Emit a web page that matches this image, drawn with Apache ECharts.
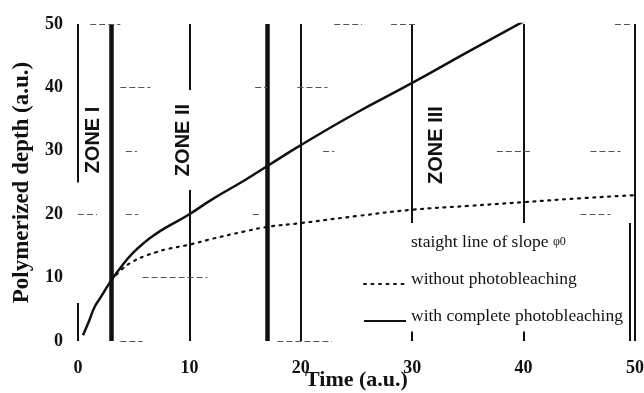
<!DOCTYPE html>
<html><head><meta charset="utf-8">
<script src="https://cdn.jsdelivr.net/npm/echarts@6/dist/echarts.min.js"></script>
<style>html,body{margin:0;padding:0;background:#fff}#c{width:644px;height:393px}</style>
</head><body><div id="c"></div>
<script>
// Data
const withBleach = [[0.45,0.9],[1,3.2],[1.5,5.4],[2,6.8],[3,9.6],[4,12.0],[5,14.0],[6,15.6],[7,16.9],[8,18.0],[10,20.0],[12,22.3],[15,25.4],[17,27.6],[20,30.9],[25,36.0],[30,40.7],[35,45.6],[40.3,50.7]];
const withoutBleach = [[3,9.6],[4,11.4],[5,12.6],[6,13.4],[7,14.0],[8,14.5],[10,15.2],[12,16.1],[15,17.3],[17,18.0],[20,18.6],[25,19.7],[30,20.7],[35,21.3],[40,21.9],[45,22.5],[50,23.0]];
const xTicks = [0,10,20,30,40,50];
const yTicks = [0,10,20,30,40,50];
// vertical zone / reference lines: [x, yFrom, yTo, thick(1) or thin(0)]
const vLines = [[0,25,50,0],[0,0,6,0],[3,0,50,1],[10,39.6,50,0],[10,0,23.8,0],[17,0,50,1],[20,0,50,0],[30,18.6,50,0],[30,0,1.5,0],[40,18.6,50,0],[40,0,1.5,0],[50,0,50,0],[49.55,0,18.6,0]];
// leftover grid-line fragments: [y, xFrom, xTo]
const hDashes = [[50,1.1,3.8],[50,23.0,25.5],[50,28.1,30.5],[50,48.2,49.8],[40,3.8,6.5],[40,15.9,17.0],[40,19.7,22.4],[30,4.3,5.3],[30,22.0,23.0],[30,37.6,40.6],[30,46.0,48.7],[20,0,1.7],[20,4.3,5.4],[20,15.7,16.4],[20,45.1,47.8],[10,5.8,11.6],[0,3.8,5.8],[0,17.9,22.8]];
const zones = [['ZONE I',1.35,31.7],['ZONE II',9.5,31.7],['ZONE III',32.2,30.9]];
const legendNames = ['staight line of slope φ0','without photobleaching','with complete photobleaching'];

const chart = echarts.init(document.getElementById('c'));
const serif = '"Liberation Serif","Times New Roman",serif';
const vData = vLines.map(v => [{coord:[v[0],v[1]], lineStyle:{width:v[3]?4.5:2}},{coord:[v[0],v[2]]}]);
const hData = hDashes.map(h => [{coord:[h[1],h[0]],lineStyle:{width:1,color:'#555',type:[6,3]}},{coord:[h[2],h[0]]}]);
chart.setOption({
  animation:false,
  backgroundColor:'#fff',
  grid:{left:78,right:9,top:24,bottom:52,outerBoundsMode:'none',containLabel:false},
  xAxis:{type:'value',min:0,max:50,interval:10,
    axisLine:{show:false},axisTick:{show:false},splitLine:{show:false},
    axisLabel:{color:'#111',fontFamily:serif,fontSize:18,fontWeight:'bold',margin:18},
    name:'Time (a.u.)',nameLocation:'middle',nameGap:28,nameMoveOverlap:false,
    nameTextStyle:{color:'#111',fontFamily:serif,fontSize:22,fontWeight:'bold',verticalAlign:'top'}},
  yAxis:{type:'value',min:0,max:50,interval:10,
    axisLine:{show:false},axisTick:{show:false},splitLine:{show:false},
    axisLabel:{color:'#111',fontFamily:serif,fontSize:18,fontWeight:'bold',margin:15},
    name:'Polymerized depth (a.u.)',nameLocation:'middle',nameGap:44,nameRotate:90,
    nameTextStyle:{color:'#111',fontFamily:serif,fontSize:23,fontWeight:'bold'}},
  legend:{orient:'vertical',left:358,top:227,itemGap:7,itemWidth:42,itemHeight:14,
    itemStyle:{opacity:0},
    data:[{name:legendNames[0],icon:'none'},legendNames[1],legendNames[2]],
    textStyle:{color:'#111',fontFamily:serif,fontSize:17.5,lineHeight:20,padding:[0,0,10,0],
      rich:{s:{fontSize:12,fontFamily:serif,color:'#111',lineHeight:20}}},
    formatter:n=> n===legendNames[0] ? 'staight line of slope {s|φ0}' : n},
  series:[
    {name:'refs',type:'line',data:[],silent:true,
      markLine:{symbol:'none',silent:true,label:{show:false},lineStyle:{color:'#111',type:'solid',width:2},data:vData.concat(hData)}},
    {name:legendNames[0],type:'line',data:[],symbol:'none',lineStyle:{width:0,color:'#fff'}},
    {name:legendNames[1],type:'line',data:withoutBleach,symbol:'none',smooth:true,
      lineStyle:{color:'#111',width:2.2,type:[2,5.5],cap:'round'},itemStyle:{color:'#111'}},
    {name:legendNames[2],type:'line',data:withBleach,symbol:'none',smooth:true,
      lineStyle:{color:'#111',width:2.5},itemStyle:{color:'#111'}}
  ]
});
const g = zones.map(z => {
  const p = chart.convertToPixel({gridIndex:0},[z[1],z[2]]);
  return {type:'text',x:p[0],y:p[1],rotation:Math.PI/2,z:10,
    style:{text:z[0],fill:'#111',font:'bold 20px "Liberation Sans",Arial,sans-serif',align:'center',verticalAlign:'middle',backgroundColor:'#fff'}};
});
chart.setOption({graphic:g});
</script></body></html>
